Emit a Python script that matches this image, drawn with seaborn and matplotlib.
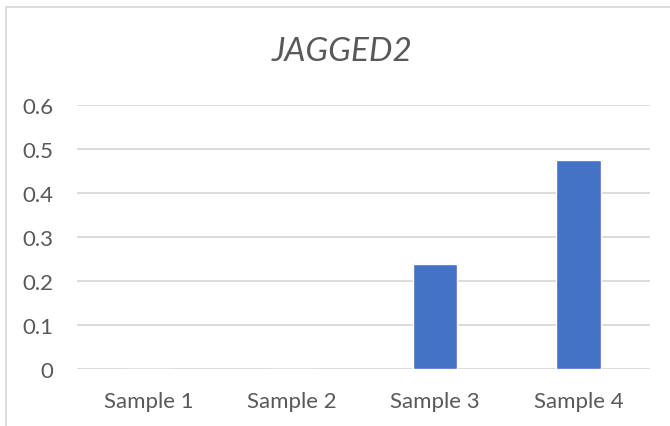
import matplotlib
matplotlib.use("Agg")
import matplotlib.pyplot as plt
import seaborn as sns
import pandas as pd
from matplotlib.patches import Rectangle

# values
samples = ["Sample 1", "Sample 2", "Sample 3", "Sample 4"]
values = [0.0, 0.0, 0.239, 0.476]
y_ticks = [0, 0.1, 0.2, 0.3, 0.4, 0.5, 0.6]
title = "JAGGED2"

sns.set_style("white")
plt.rcParams['font.family'] = ['Lato', 'DejaVu Sans']

df = pd.DataFrame({"sample": samples, "value": values})

fig = plt.figure(figsize=(6.7, 4.27), dpi=100)
ax = fig.add_axes([77 / 670, 1 - 370 / 427, (650 - 77) / 670, (370 - 106) / 427])

sns.barplot(data=df, x="sample", y="value", color="#4472C4", saturation=1,
            width=0.31, ax=ax, zorder=3)

ax.set_ylim(0, 0.6)
ax.set_xlim(-0.5, len(samples) - 0.5)
ax.set_yticks(y_ticks)
ax.set_yticklabels([f"{t:g}" for t in y_ticks])
ax.yaxis.grid(True, color="#D9D9D9", linewidth=1.3, zorder=0)
ax.set_axisbelow(True)
for s in ax.spines.values():
    s.set_visible(False)
ax.tick_params(axis="both", length=0, labelsize=16, colors="#595959")
ax.tick_params(axis="y", pad=17)
ax.tick_params(axis="x", pad=16)
ax.set_xlabel("")
ax.set_ylabel("")

fig.text(342 / 670, 1 - 52 / 427, title, ha="center", va="center",
         fontsize=24, style="italic", color="#595959")

# outer chart border
fig.patches.append(Rectangle((6 / 670, -0.1), 1.2, 1 - 8 / 427 + 0.1,
                             transform=fig.transFigure, fill=False,
                             edgecolor="#D9D9D9", linewidth=1.3))

fig.savefig("out.png", dpi=100, facecolor="white")
